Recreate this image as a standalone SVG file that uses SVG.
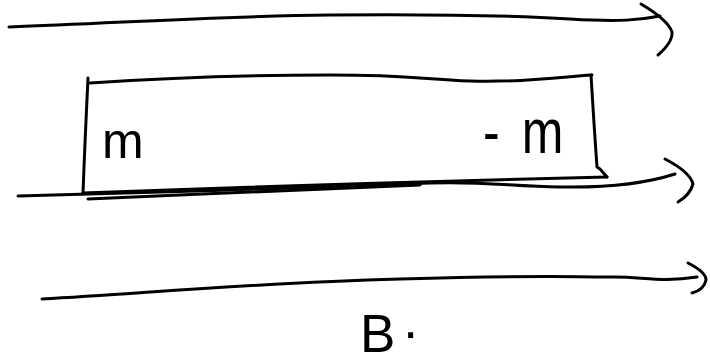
<svg xmlns="http://www.w3.org/2000/svg" width="710" height="364" viewBox="0 0 710 364">
<style>
.ink{fill:none;stroke:#000;stroke-width:3;stroke-linecap:round;stroke-linejoin:round}
.lbl{font-family:"Liberation Sans",Arial,sans-serif;fill:#000}
</style>
<rect width="710" height="364" fill="#fff"/>
<g id="connectors">
  <g id="arrow-top">
    <path class="ink" d="M9,27 C120,23 220,16 330,15 S520,16 570,19 S640,20 660,16"/>
    <path class="ink" d="M641,4 Q668,20 672,32 Q673,42 658,55"/>
  </g>
  <g id="arrow-middle">
    <path class="ink" d="M18,196 C150,193 300,188 430,183 C480,181 510,186 560,187 C610,188 650,182 675,174"/>
    <path class="ink" d="M88,199 C200,194 320,189 420,185"/>
    <path class="ink" d="M665,159 Q690,172 693,184 Q690,195 678,202"/>
  </g>
  <g id="arrow-bottom">
    <path class="ink" d="M42,299 C150,293 250,283 400,279 S560,277 610,277 C640,276 660,283 697,277"/>
    <path class="ink" d="M688,263 Q706,272 706,280 Q704,290 692,293"/>
  </g>
</g>
<g id="box">
  <path class="ink" d="M88,78 Q85,140 83,193"/>
  <path class="ink" d="M90,83 C180,77 250,75 330,75 S420,79 470,81 S560,77 592,75"/>
  <path class="ink" d="M591,75 Q594,125 597,167 L600,169 L607,177"/>
  <path class="ink" d="M607,177 Q350,183 83,193"/>
  <text class="lbl" x="102" y="158" font-size="50">m</text>
  <text class="lbl" transform="translate(483,153) scale(1,1.27)" font-size="50">-<tspan dx="22">m</tspan></text>
</g>
<g id="label-B">
  <text class="lbl" x="360" y="352" font-size="53">B<tspan dx="8" dy="-14">.</tspan></text>
</g>
</svg>
